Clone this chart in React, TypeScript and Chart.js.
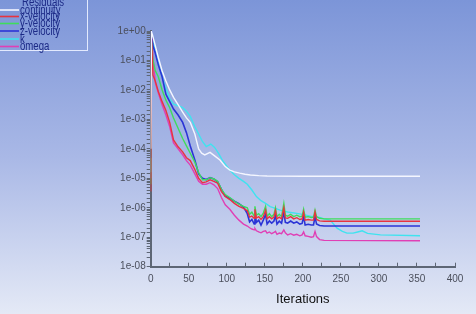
import React, { useEffect, useRef } from "react";
import { Chart, registerables } from "chart.js";

Chart.register(...registerables);

// Residual history, one series per equation.
const seriesNames = ["continuity", "x-velocity", "y-velocity", "z-velocity", "k", "omega"];
const seriesColors = ["#f4f6ff", "#e8333f", "#3fdd5c", "#2b34d6", "#3fe3ef", "#e03fb5"];

const continuityIters = [0, 1, 3, 6, 10, 15, 20, 25, 30, 36, 42, 47, 52, 58, 63, 67, 71, 78, 84, 91, 98, 104, 110, 117, 124, 131, 142, 153, 200, 354];
const continuityVals = [1.0e-4, 1, 0.63, 0.32, 0.126, 0.0447, 0.02, 0.01, 5.6e-3, 3.16e-3, 1.78e-3, 1.12e-3, 7.9e-4, 3.2e-4, 1.0e-4, 7.1e-5, 6.2e-5, 7.6e-5, 5.8e-5, 4.2e-5, 2.5e-5, 1.9e-5, 1.66e-5, 1.5e-5, 1.38e-5, 1.29e-5, 1.23e-5, 1.2e-5, 1.17e-5, 1.17e-5];

const kIters = [0, 1, 3, 6, 10, 15, 20, 25, 30, 36, 42, 47, 52, 58, 63, 68, 73, 79, 84, 89, 95, 104, 110, 116, 122, 127, 133, 139, 145, 151, 157, 164, 170, 180, 196, 210, 222, 228, 236, 245, 252, 258, 266, 272, 278, 285, 302, 354];
const kVals = [1.6e-5, 1, 0.5, 0.2, 0.079, 0.028, 0.0112, 5.0e-3, 3.3e-3, 2.9e-3, 2.5e-3, 1.9e-3, 1.26e-3, 5.6e-4, 3.2e-4, 1.78e-4, 1.2e-4, 1.45e-4, 1.12e-4, 7.2e-5, 3.8e-5, 1.9e-5, 1.32e-5, 1.0e-5, 7.9e-6, 6.3e-6, 4.0e-6, 2.4e-6, 1.74e-6, 1.41e-6, 1.1e-6, 9.5e-7, 8.3e-7, 7.2e-7, 6.2e-7, 5.2e-7, 4.7e-7, 4.2e-7, 3.8e-7, 2.04e-7, 1.58e-7, 1.38e-7, 1.38e-7, 1.51e-7, 1.66e-7, 1.35e-7, 1.2e-7, 1.12e-7];

// Velocity and omega residuals share the same sampled iterations.
const velIters = [0, 1, 3, 6, 10, 15, 20, 25, 30, 36, 42, 47, 52, 58, 63, 68, 73, 78, 83, 88, 93, 98, 104, 110, 116, 122, 127, 130, 133, 136, 137, 139, 142, 145, 148, 151, 153, 156, 159, 162, 164, 166, 169, 172, 175, 177, 180, 184, 188, 192, 196, 199, 201, 203, 207, 211, 214, 216, 218, 222, 228, 354];

const xVelocityVals = [3.55e-6, 0.63, 0.0316, 0.02, 8.9e-3, 4.0e-3, 2.0e-3, 7.9e-4, 2.0e-4, 1.17e-4, 7.9e-5, 5.0e-5, 4.0e-5, 2.0e-5, 1.0e-5, 7.1e-6, 7.6e-6, 8.9e-6, 7.9e-6, 6.8e-6, 3.55e-6, 2.4e-6, 1.9e-6, 1.41e-6, 1.12e-6, 9.5e-7, 7.9e-7, 4.8e-7, 5.2e-7, 4.4e-7, 8.9e-7, 4.5e-7, 5.0e-7, 4.0e-7, 5.0e-7, 8.3e-7, 4.2e-7, 5.0e-7, 4.2e-7, 4.8e-7, 7.9e-7, 4.2e-7, 4.8e-7, 4.2e-7, 1.0e-6, 4.5e-7, 4.4e-7, 5.0e-7, 4.2e-7, 4.6e-7, 4.0e-7, 4.2e-7, 7.1e-7, 3.8e-7, 4.0e-7, 3.8e-7, 3.8e-7, 7.1e-7, 4.0e-7, 3.6e-7, 3.5e-7, 3.5e-7];

const yVelocityVals = [6.3e-6, 0.4, 0.1, 0.045, 0.028, 0.01, 4.5e-3, 2.5e-3, 1.12e-3, 5.0e-4, 2.24e-4, 1.26e-4, 7.1e-5, 3.55e-5, 1.58e-5, 8.9e-6, 8.9e-6, 1.05e-5, 9.5e-6, 7.9e-6, 4.2e-6, 2.8e-6, 2.24e-6, 1.66e-6, 1.32e-6, 1.12e-6, 1.0e-6, 6.0e-7, 7.1e-7, 5.2e-7, 1.12e-6, 5.6e-7, 6.3e-7, 5.0e-7, 6.6e-7, 1.12e-6, 5.2e-7, 6.3e-7, 5.0e-7, 6.0e-7, 1.0e-6, 5.0e-7, 6.0e-7, 5.0e-7, 1.41e-6, 5.6e-7, 5.2e-7, 6.0e-7, 5.0e-7, 5.6e-7, 5.0e-7, 5.2e-7, 8.9e-7, 4.8e-7, 5.0e-7, 4.7e-7, 4.8e-7, 8.3e-7, 5.0e-7, 4.4e-7, 4.2e-7, 4.2e-7];

const zVelocityVals = [5.0e-5, 1, 0.32, 0.178, 0.071, 0.028, 7.1e-3, 4.0e-3, 2.24e-3, 1.41e-3, 7.9e-4, 3.55e-4, 1.26e-4, 4.2e-5, 1.41e-5, 1.0e-5, 9.1e-6, 1.05e-5, 9.5e-6, 7.6e-6, 4.2e-6, 2.5e-6, 2.1e-6, 1.66e-6, 1.38e-6, 1.05e-6, 6.3e-7, 3.3e-7, 4.0e-7, 2.8e-7, 6.3e-7, 3.2e-7, 3.8e-7, 2.6e-7, 3.8e-7, 6.0e-7, 2.8e-7, 3.55e-7, 3.0e-7, 3.55e-7, 5.6e-7, 2.8e-7, 3.5e-7, 3.0e-7, 7.1e-7, 3.2e-7, 3.0e-7, 3.55e-7, 3.0e-7, 3.3e-7, 2.8e-7, 2.95e-7, 5.0e-7, 2.6e-7, 2.75e-7, 2.6e-7, 2.6e-7, 5.0e-7, 2.8e-7, 2.5e-7, 2.4e-7, 2.4e-7];

const omegaVals = [1.0e-5, 1, 0.126, 0.0178, 7.9e-3, 3.16e-3, 1.41e-3, 5.6e-4, 1.58e-4, 1.0e-4, 6.3e-5, 4.0e-5, 2.8e-5, 1.41e-5, 7.9e-6, 6.3e-6, 6.3e-6, 7.1e-6, 6.0e-6, 4.5e-6, 2.24e-6, 1.26e-6, 8.9e-7, 5.6e-7, 3.8e-7, 2.8e-7, 2.4e-7, 2.1e-7, 1.9e-7, 1.78e-7, 2.0e-7, 1.66e-7, 1.51e-7, 1.41e-7, 1.58e-7, 1.66e-7, 1.38e-7, 1.51e-7, 1.32e-7, 1.45e-7, 1.58e-7, 1.26e-7, 1.38e-7, 1.32e-7, 1.78e-7, 1.41e-7, 1.2e-7, 1.32e-7, 1.17e-7, 1.26e-7, 1.12e-7, 1.2e-7, 1.51e-7, 1.12e-7, 1.07e-7, 1.0e-7, 1.05e-7, 1.58e-7, 1.05e-7, 8.3e-8, 7.8e-8, 7.6e-8];

const xTickStep = 25;
const xMin = 0;
const xMax = 400;
const yMin = 1e-8;
const yMax = 1;

const W = 476;
const H = 314;
const axisColor = "#5d6675";
const tickFont = { family: "'Liberation Sans', Arial, sans-serif", size: 10 };

const toPoints = (xs: number[], ys: number[]) => xs.map((x, i) => ({ x, y: ys[i] }));

const formatExp = (v: number) => {
  const e = Math.round(Math.log10(v));
  const s = Math.abs(e).toString().padStart(2, "0");
  return `1e${e >= 0 ? "+" : "-"}${s}`;
};

const backgroundPlugin = {
  id: "bgGradient",
  beforeDraw(chart: any) {
    const { ctx, width, height } = chart;
    const g = ctx.createLinearGradient(0, 0, 0, height);
    g.addColorStop(0, "#7c95d8");
    g.addColorStop(0.5, "#a9b8e6");
    g.addColorStop(1, "#e4e9f6");
    ctx.save();
    ctx.fillStyle = g;
    ctx.fillRect(0, 0, width, height);
    ctx.restore();
  },
};

const legendPlugin = {
  id: "residualLegend",
  afterDraw(chart: any) {
    const { ctx } = chart;
    ctx.save();
    ctx.strokeStyle = "rgba(232,238,255,0.95)";
    ctx.lineWidth = 1;
    ctx.strokeRect(-1, -1, 88.5, 51.5);
    const rows = [10, 16.5, 23.5, 31, 39, 46.5];
    ctx.font = "12px 'Liberation Sans', Arial, sans-serif";
    ctx.textBaseline = "middle";
    ctx.fillStyle = "#1c2a86";
    const drawText = (t: string, x: number, y: number) => {
      ctx.save();
      ctx.translate(x, y);
      ctx.scale(0.8, 1);
      ctx.fillText(t, 0, 0);
      ctx.restore();
    };
    drawText("Residuals", 22, 3);
    seriesNames.forEach((name, i) => {
      const y = rows[i];
      ctx.strokeStyle = seriesColors[i];
      ctx.lineWidth = 1.6;
      ctx.beginPath();
      ctx.moveTo(0, y);
      ctx.lineTo(19, y);
      ctx.stroke();
      drawText(name, 20, y + 0.5);
    });
    ctx.restore();
  },
};

export default function App() {
  const ref = useRef<HTMLCanvasElement | null>(null);

  useEffect(() => {
    if (!ref.current) return;
    const allData = [
      toPoints(continuityIters, continuityVals),
      toPoints(velIters, xVelocityVals),
      toPoints(velIters, yVelocityVals),
      toPoints(velIters, zVelocityVals),
      toPoints(kIters, kVals),
      toPoints(velIters, omegaVals),
    ];
    const chart = new Chart(ref.current, {
      type: "line",
      data: {
        datasets: seriesNames.map((name, i) => ({
          label: name,
          data: allData[i],
          borderColor: seriesColors[i],
          borderWidth: i === 3 ? 1.6 : 1.4,
          pointRadius: 0,
          tension: 0,
          fill: false,
        })),
      },
      options: {
        responsive: false,
        animation: false,
        events: [],
        layout: { padding: { top: 31, right: 21, left: 0, bottom: 0 } },
        plugins: { legend: { display: false }, tooltip: { enabled: false } },
        scales: {
          x: {
            type: "linear",
            min: xMin,
            max: xMax,
            border: { color: axisColor, width: 2 },
            grid: { drawOnChartArea: false, color: axisColor, tickLength: -4, lineWidth: 1 },
            ticks: {
              stepSize: xTickStep,
              autoSkip: false,
              maxRotation: 0,
              padding: 11,
              color: "#4b4f5c",
              font: tickFont,
              callback: (v: any) => (Number(v) % 50 === 0 ? String(v) : ""),
            },
            title: {
              display: true,
              text: "Iterations",
              color: "#111111",
              font: { family: "'Liberation Sans', Arial, sans-serif", size: 13 },
              padding: { top: 0, bottom: 7 },
            },
            afterFit: (s: any) => {
              s.height = 47.3;
            },
          },
          y: {
            type: "logarithmic",
            min: yMin,
            max: yMax,
            border: { color: axisColor, width: 2 },
            grid: { drawOnChartArea: false, color: axisColor, tickLength: 4, lineWidth: 1 },
            ticks: {
              autoSkip: false,
              padding: 1,
              color: "#4b4f5c",
              font: tickFont,
              callback: (v: any) => {
                const l = Math.log10(Number(v));
                return Math.abs(l - Math.round(l)) < 1e-6 ? formatExp(Number(v)) : "";
              },
            },
            afterFit: (s: any) => {
              s.width = 150.7;
            },
          },
        },
      },
      plugins: [backgroundPlugin, legendPlugin],
    } as any);
    return () => chart.destroy();
  }, []);

  return (
    <div style={{ position: "fixed", left: 0, top: 0, width: W, height: H }}>
      <canvas ref={ref} width={W} height={H} style={{ display: "block" }} />
    </div>
  );
}
